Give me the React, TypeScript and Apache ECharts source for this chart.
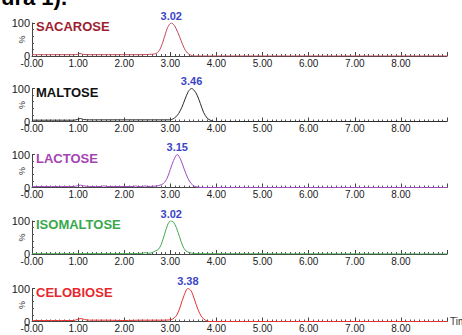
import React, { useEffect, useRef } from "react";
import * as echarts from "echarts";

const compounds = ["SACAROSE", "MALTOSE", "LACTOSE", "ISOMALTOSE", "CELOBIOSE"];
const peakTimes = [3.02, 3.46, 3.15, 3.02, 3.38];

const sacarose: number[][] = [
  [0, 4], [0.5, 4], [0.9, 4], [0.98, 5], [1.04, 8], [1.1, 5], [1.2, 4], [1.8, 4], [2.4, 4],
  [2.55, 5], [2.65, 6], [2.72, 10], [2.79, 24], [2.86, 52], [2.94, 86], [3.02, 100], [3.09, 92],
  [3.16, 72], [3.23, 48], [3.3, 24], [3.37, 9], [3.44, 3], [3.52, 0], [9, 0],
];
const maltose: number[][] = [
  [0, 4], [0.9, 4], [0.98, 6], [1.05, 9], [1.12, 6], [1.25, 5], [1.6, 5], [2.0, 5], [2.4, 5],
  [2.8, 5], [3.0, 5], [3.06, 8], [3.12, 14], [3.18, 24], [3.25, 43], [3.32, 68], [3.39, 91],
  [3.46, 100], [3.52, 94], [3.58, 80], [3.65, 55], [3.72, 28], [3.8, 10], [3.88, 3], [3.95, 0], [9, 0],
];
const lactose: number[][] = [
  [0, 3], [0.9, 3], [0.98, 5], [1.05, 7], [1.12, 5], [1.25, 3], [1.5, 3], [1.56, 5], [1.62, 3],
  [2.2, 3], [2.25, 5], [2.3, 3], [2.4, 3], [2.45, 5], [2.5, 3], [2.65, 4], [2.75, 6], [2.85, 12],
  [2.93, 28], [3.0, 55], [3.07, 82], [3.15, 100], [3.22, 86], [3.3, 56], [3.38, 28], [3.45, 12],
  [3.52, 4], [3.6, 1], [3.7, 0], [9, 0],
];
const isomaltose: number[][] = [
  [0, 1], [1, 1], [2, 1], [2.38, 2], [2.45, 4], [2.52, 2], [2.6, 4], [2.67, 9], [2.74, 14],
  [2.8, 28], [2.87, 58], [2.94, 88], [3.0, 100], [3.06, 98], [3.13, 80], [3.2, 52], [3.27, 24],
  [3.34, 9], [3.42, 4], [3.5, 2], [3.6, 1], [9, 0],
];
const celobiose: number[][] = [
  [0, 3], [0.9, 3], [0.98, 6], [1.06, 9], [1.14, 6], [1.25, 4], [1.6, 4], [2.0, 3], [2.4, 4],
  [2.8, 4], [3.0, 5], [3.08, 10], [3.15, 22], [3.22, 47], [3.3, 80], [3.38, 100], [3.45, 93],
  [3.52, 68], [3.6, 36], [3.68, 14], [3.76, 4], [3.85, 0], [9, 0],
];
const traces = [sacarose, maltose, lactose, isomaltose, celobiose];

const titleColors = ["#9e1c30", "#111111", "#a444b4", "#38a84e", "#e8282e"];
const lineColors = ["#c04a5c", "#2a2a2a", "#a04cc0", "#44a852", "#e83232"];
const axisY = [56, 121.5, 187.5, 254, 321.5];
const H = 33;

export default function App() {
  const ref = useRef<HTMLDivElement>(null);
  useEffect(() => {
    if (!ref.current) return;
    const chart = echarts.init(ref.current, undefined, { renderer: "svg" });
    const font = "Liberation Sans, Arial, sans-serif";
    const grids = compounds.map((_, i) => ({
      left: 32,
      right: 15,
      top: axisY[i] - H,
      height: H,
      containLabel: false,
      outerBoundsMode: "none",
    }));
    const xAxes = compounds.map((_, i) => ({
      type: "value",
      gridIndex: i,
      min: 0,
      max: 9,
      interval: 1,
      name: i === compounds.length - 1 ? "Time" : "",
      nameLocation: "end",
      nameGap: 3,
      nameTextStyle: { fontSize: 10, color: "#333", fontFamily: font },
      axisLine: { show: true, lineStyle: { color: "#444", width: 1 } },
      axisTick: { show: true, inside: true, length: 4, lineStyle: { color: "#444" } },
      minorTick: { show: true, splitNumber: 10, length: 2, lineStyle: { color: "#555" } },
      splitLine: { show: false },
      axisLabel: {
        fontSize: 10,
        color: "#222",
        margin: 2,
        fontFamily: font,
        hideOverlap: false,
        formatter: (v: number) => (v === 0 ? "-0.00" : v >= 9 ? "" : v.toFixed(2)),
      },
    }));
    const yAxes = compounds.map((_, i) => ({
      type: "value",
      gridIndex: i,
      min: 0,
      max: 100,
      interval: 100,
      name: "%",
      nameLocation: "middle",
      nameRotate: 90,
      nameGap: 6,
      nameMoveOverlap: false,
      nameTextStyle: { fontSize: 9, color: "#333", fontFamily: font },
      axisLine: { show: true, lineStyle: { color: "#444", width: 1 } },
      axisTick: { show: true, inside: true, length: 3, lineStyle: { color: "#444" } },
      minorTick: { show: true, splitNumber: 5, length: 2, lineStyle: { color: "#555" } },
      splitLine: { show: false },
      axisLabel: { fontSize: 11, color: "#222", margin: 2, fontFamily: font },
    }));
    const series = compounds.map((name, i) => ({
      type: "line",
      name,
      xAxisIndex: i,
      yAxisIndex: i,
      data: traces[i],
      symbol: "none",
      smooth: 0.3,
      lineStyle: { color: lineColors[i], width: 1 },
      z: 3,
      markPoint: {
        symbol: "circle",
        symbolSize: 0,
        data: [{ coord: [peakTimes[i], 100], value: peakTimes[i].toFixed(2) }],
        label: {
          show: true,
          position: "top",
          distance: 2,
          formatter: "{c}",
          color: "#3b46c6",
          fontWeight: "bold",
          fontSize: 11,
          fontFamily: font,
        },
      },
    }));
    const titles = compounds.map((name, i) => ({
      text: name,
      left: 36,
      top: axisY[i] - H - 3,
      padding: 0,
      textStyle: { fontSize: 13, fontWeight: "bold", color: titleColors[i], fontFamily: font },
    }));
    chart.setOption({
      animation: false,
      backgroundColor: "#ffffff",
      title: titles,
      grid: grids,
      xAxis: xAxes,
      yAxis: yAxes,
      series,
      graphic: [
        {
          type: "text",
          left: 1,
          top: -14,
          style: {
            text: "ura 1).",
            fontSize: 22,
            fontWeight: "bold",
            fill: "#000",
            fontFamily: font,
          },
        },
      ],
    });
    return () => chart.dispose();
  }, []);
  return (
    <div
      ref={ref}
      style={{ position: "fixed", left: 0, top: 0, width: 462, height: 335, background: "#fff" }}
    />
  );
}
